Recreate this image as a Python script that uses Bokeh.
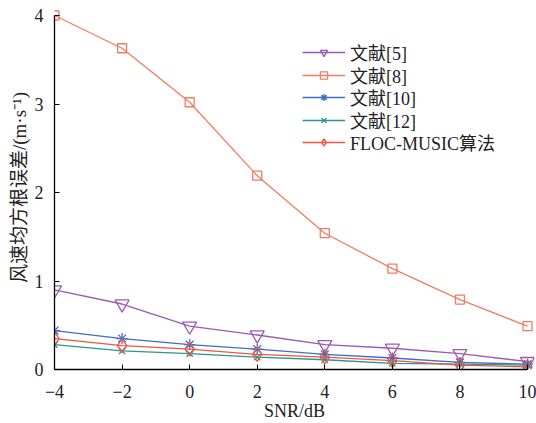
from bokeh.plotting import figure
from bokeh.models import Range1d, FixedTicker, Legend, LegendItem
from bokeh.embed import file_html
from bokeh.resources import INLINE

snr = [-4, -2, 0, 2, 4, 6, 8, 10]
ref5 = [0.90, 0.74, 0.49, 0.39, 0.28, 0.24, 0.18, 0.09]
ref8 = [4.00, 3.63, 3.02, 2.19, 1.54, 1.14, 0.79, 0.49]
ref10 = [0.44, 0.35, 0.28, 0.23, 0.17, 0.13, 0.08, 0.06]
ref12 = [0.28, 0.21, 0.18, 0.14, 0.11, 0.07, 0.06, 0.05]
floc = [0.35, 0.27, 0.23, 0.17, 0.14, 0.10, 0.05, 0.03]

labels = ["文献[5]", "文献[8]", "文献[10]", "文献[12]", "FLOC-MUSIC算法"]
colors = ["#9b59b6", "#f07d62", "#3e6cc8", "#2a9595", "#f2553f"]
markers = ["inverted_triangle", "square", "asterisk", "x", "diamond"]
sizes = [14, 9, 11, 9, 14]
series = [ref5, ref8, ref10, ref12, floc]

x_ticks = [-4, -2, 0, 2, 4, 6, 8, 10]
x_tick_labels = ["−4", "−2", "0", "2", "4", "6", "8", "10"]
y_ticks = [0, 1, 2, 3, 4]
x_title = "SNR/dB"
y_title = "风速均方根误差/(m·s⁻¹)"

FONT = "Liberation Serif, Times New Roman, Noto Sans CJK SC"

p = figure(width=536, height=423, output_backend="svg", toolbar_location=None,
           x_range=Range1d(-4.0, 10.207), y_range=Range1d(0.0, 4.113),
           min_border_left=54, min_border_right=2, min_border_top=5, min_border_bottom=54,
           x_axis_label=x_title, y_axis_label=y_title)
p.outline_line_color = None
p.grid.visible = False
p.background_fill_color = "white"
p.border_fill_color = "white"

for ax in (p.xaxis[0], p.yaxis[0]):
    ax.major_tick_in = 5
    ax.major_tick_out = 0
    ax.minor_tick_in = 0
    ax.minor_tick_out = 0
    ax.axis_line_color = "black"
    ax.axis_line_width = 1.3
    ax.major_tick_line_color = "black"
    ax.major_label_text_font = FONT
    ax.major_label_text_font_size = "18px"
    ax.major_label_text_color = "#222222"
    ax.axis_label_text_font = FONT
    ax.axis_label_text_font_style = "normal"
    ax.axis_label_text_color = "#222222"

p.xaxis[0].ticker = FixedTicker(ticks=x_ticks)
p.xaxis[0].major_label_overrides = {float(t): s for t, s in zip(x_ticks, x_tick_labels)}
p.xaxis[0].bounds = (-4, 10)
p.xaxis[0].major_label_standoff = 15
p.xaxis[0].axis_label_standoff = 0
p.xaxis[0].axis_label_text_font_size = "18px"
p.yaxis[0].ticker = FixedTicker(ticks=y_ticks)
p.yaxis[0].bounds = (0, 4)
p.yaxis[0].major_label_standoff = 11
p.yaxis[0].axis_label_standoff = 2
p.yaxis[0].axis_label_text_font_size = "19px"

leg_y = [304, 281, 259, 236, 214]
for lab, col, mk, sz, ys, ly in zip(labels, colors, markers, sizes, series, leg_y):
    r1 = p.line(snr, ys, line_color=col, line_width=1.3)
    r2 = p.scatter(snr, ys, marker=mk, size=sz, line_color=col, fill_color=None, line_width=1.3)
    legend = Legend(items=[LegendItem(label=lab, renderers=[r1, r2])], location=(248, ly))
    legend.border_line_color = None
    legend.background_fill_alpha = 0
    legend.padding = 0
    legend.margin = 0
    legend.spacing = 0
    legend.glyph_width = 43
    legend.glyph_height = 18
    legend.label_height = 18
    legend.label_standoff = 5
    legend.label_text_font = FONT
    legend.label_text_font_size = "18px"
    legend.label_text_color = "#222222"
    p.add_layout(legend, "center")

open("out.html", "w").write(file_html(p, INLINE))
